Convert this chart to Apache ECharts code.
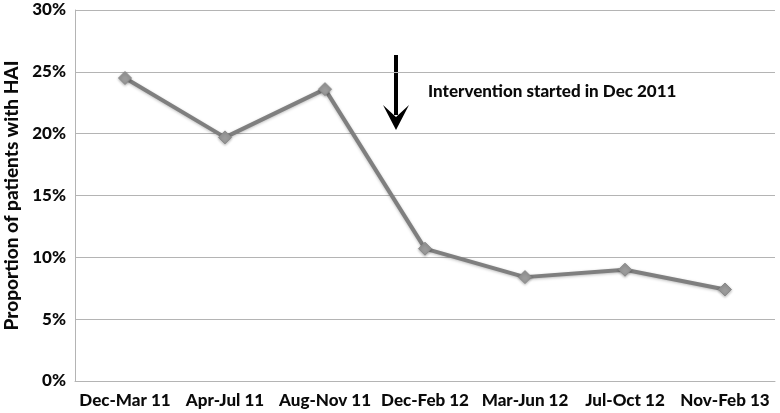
<!DOCTYPE html>
<html>
<head>
<meta charset="utf-8">
<script src="https://cdn.jsdelivr.net/npm/echarts@6/dist/echarts.min.js"></script>
<style>
  html, body { margin: 0; padding: 0; background: #fff; }
  #chart { width: 780px; height: 413px; }
</style>
</head>
<body>
<div id="chart"></div>
<script>
// periods and HAI proportion (%)
const categories = ["Dec-Mar 11", "Apr-Jul 11", "Aug-Nov 11", "Dec-Feb 12", "Mar-Jun 12", "Jul-Oct 12", "Nov-Feb 13"];
const haiValues = [24.5, 19.7, 23.6, 10.7, 8.4, 9.0, 7.4];
const yTicks = { min: 0, max: 30, interval: 5 };
const noteText = "Intervention started in Dec 2011";

const font = "Lato, 'Open Sans', sans-serif";
const chart = echarts.init(document.getElementById("chart"));

chart.setOption({
  animation: false,
  grid: { left: 75, right: 5, top: 10, bottom: 32, containLabel: false, outerBoundsMode: "none" },
  xAxis: {
    type: "category",
    data: categories,
    axisTick: { show: false },
    axisLine: { lineStyle: { color: "#b4b4b4", width: 1 } },
    axisLabel: { interval: 0, color: "#0a0a0a", fontFamily: font, fontWeight: 900, fontSize: 17, margin: 11 }
  },
  yAxis: {
    type: "value",
    min: yTicks.min,
    max: yTicks.max,
    interval: yTicks.interval,
    name: "Proportion of patients with HAI",
    nameLocation: "middle",
    nameGap: 50,
    nameTextStyle: { color: "#0a0a0a", fontFamily: font, fontWeight: 900, fontSize: 19 },
    axisLine: { show: true, lineStyle: { color: "#b4b4b4", width: 1 } },
    axisTick: { show: false },
    splitLine: { lineStyle: { color: "#b4b4b4", width: 1 } },
    axisLabel: { formatter: "{value}%", color: "#0a0a0a", fontFamily: font, fontWeight: 900, fontSize: 17, margin: 9 }
  },
  series: [
    {
      type: "line",
      data: haiValues,
      symbol: "diamond",
      symbolSize: 13,
      lineStyle: { color: "#7f7f7f", width: 4, shadowColor: "rgba(0,0,0,0.25)", shadowBlur: 3, shadowOffsetY: 1 },
      itemStyle: { color: "#9b9b9b", borderColor: "#8a8a8a", borderWidth: 1, shadowColor: "rgba(0,0,0,0.3)", shadowBlur: 3, shadowOffsetY: 1 }
    }
  ],
  graphic: [
    {
      type: "group",
      left: 383,
      top: 55,
      children: [
        { type: "rect", shape: { x: 11, y: 0, width: 4, height: 60 }, style: { fill: "#000" } },
        { type: "polygon", shape: { points: [[0, 50], [13, 75], [26, 50], [13, 62]] }, style: { fill: "#000" } }
      ]
    },
    {
      type: "text",
      left: 428,
      top: 83,
      style: { text: noteText, fill: "#0a0a0a", font: "900 17px " + font }
    }
  ]
});
</script>
</body>
</html>
